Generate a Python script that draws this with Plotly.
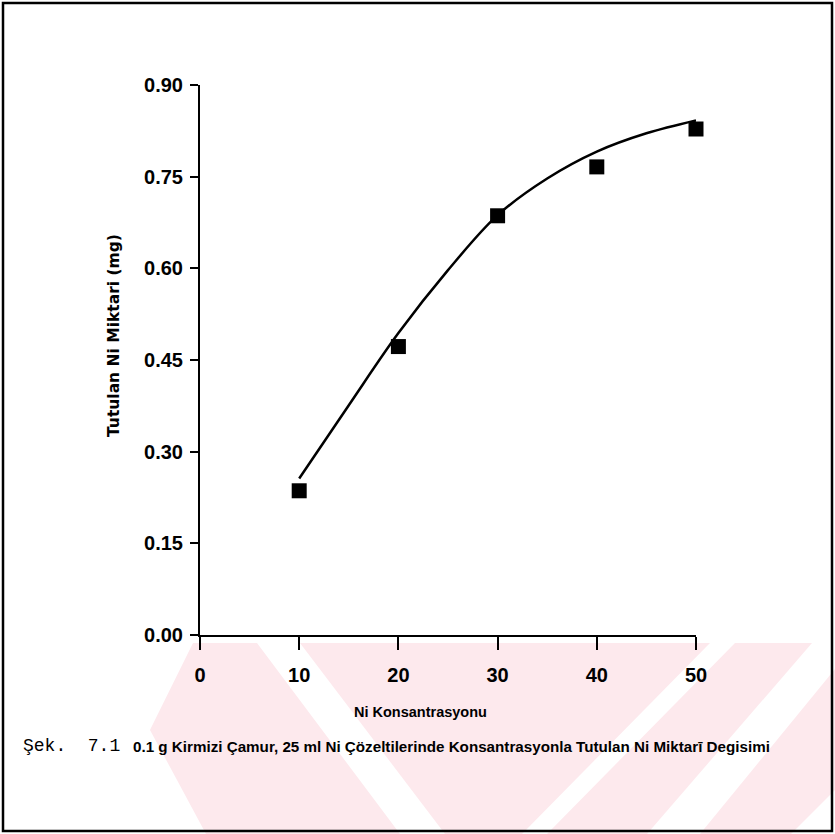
import plotly.graph_objects as go

# Page size
W, H = 835, 834

# Measured data: Ni retained vs. Ni concentration
conc = [10, 20, 30, 40, 50]
ni_retained = [0.236, 0.472, 0.686, 0.766, 0.828]

# Smoothed trend curve drawn through the measurements
curve_x = [10, 15, 20, 25, 30, 35, 40, 45, 50]
curve_y = [0.256, 0.376, 0.494, 0.597, 0.687, 0.747, 0.791, 0.821, 0.842]

x_ticks = [0, 10, 20, 30, 40, 50]
y_ticks = [0.00, 0.15, 0.30, 0.45, 0.60, 0.75, 0.90]
y_tick_text = ["0.00", "0.15", "0.30", "0.45", "0.60", "0.75", "0.90"]

x_title = "Ni Konsantrasyonu"
y_title = "Tutulan Ni Miktari (mg)"
fig_no = "Şek.  7.1"
caption = "0.1 g Kirmizi Çamur, 25 ml Ni Çözeltilerinde Konsantrasyonla Tutulan Ni Miktarī Degisimi"

# Plot area in pixels
ML, MR, MT, MB = 200, 139, 85, 199
PL, PR, PT, PB = ML, W - MR, MT, H - MB

SANS = "Liberation Sans, Arial, sans-serif"


def px(x):
    return (x - PL) / (PR - PL)


def py(y):
    return (PB - y) / (PB - PT)


def poly(points):
    d = "M " + " L ".join(f"{px(x):.5f},{py(y):.5f}" for x, y in points) + " Z"
    return d


fig = go.Figure()

fig.add_trace(go.Scatter(
    x=curve_x, y=curve_y, mode="lines",
    line=dict(color="black", width=2.5, shape="spline", smoothing=1.0),
    hoverinfo="skip", showlegend=False, cliponaxis=False,
))
fig.add_trace(go.Scatter(
    x=conc, y=ni_retained, mode="markers",
    marker=dict(symbol="square", size=15, color="black"),
    showlegend=False, cliponaxis=False,
))

shapes = []
# faint chevron watermark at the foot of the page
pink = "rgb(253,233,237)"
wm = [
    [(193, 643), (257, 643), (400, 834), (206, 834), (177, 780), (150, 730)],
    [(300, 643), (710, 643), (522, 834), (445, 834)],
    [(735, 643), (812, 643), (647, 834), (547, 834)],
    [(835, 669), (835, 790), (791, 834), (700, 834)],
]
for p in wm:
    shapes.append(dict(type="path", path=poly(p), xref="paper", yref="paper",
                       fillcolor=pink, line=dict(width=0), layer="below"))
# page frame
shapes.append(dict(type="rect", xref="paper", yref="paper",
                   x0=px(3), x1=px(832), y0=py(3), y1=py(831),
                   line=dict(color="black", width=2.5), layer="above"))

annotations = [
    dict(text=f"<b>{x_title}</b>", x=px(420), y=py(712), xref="paper", yref="paper",
         showarrow=False, xanchor="center", yanchor="middle",
         font=dict(family=SANS, size=14.5, color="black")),
    dict(text=f"<b>{y_title}</b>", x=px(114), y=py(336), xref="paper", yref="paper",
         showarrow=False, xanchor="center", yanchor="middle", textangle=-90,
         font=dict(family="DejaVu Sans", size=15.5, color="black")),
    dict(text=fig_no, x=px(21), y=py(746), xref="paper", yref="paper",
         showarrow=False, xanchor="left", yanchor="middle",
         font=dict(family="Liberation Mono, monospace", size=18, color="black")),
    dict(text=f"<b>{caption}</b>", x=px(131), y=py(746), xref="paper", yref="paper",
         showarrow=False, xanchor="left", yanchor="middle",
         font=dict(family=SANS, size=15.2, color="black")),
]

fig.update_layout(
    width=W, height=H,
    margin=dict(l=ML, r=MR, t=MT, b=MB, pad=0),
    paper_bgcolor="white", plot_bgcolor="rgba(0,0,0,0)",
    shapes=shapes, annotations=annotations,
    showlegend=False,
)
fig.update_xaxes(
    range=[0, 50], tickmode="array", tickvals=x_ticks,
    ticks="outside", ticklen=13, tickwidth=2, tickcolor="black",
    showline=True, linecolor="black", linewidth=2, showgrid=False, zeroline=False,
    tickfont=dict(family=SANS, size=20, color="black", weight="bold"),
    ticklabelstandoff=8,
)
fig.update_yaxes(
    range=[0, 0.9], tickmode="array", tickvals=y_ticks, ticktext=y_tick_text,
    ticks="outside", ticklen=8, tickwidth=2, tickcolor="black",
    showline=True, linecolor="black", linewidth=2, showgrid=False, zeroline=False,
    tickfont=dict(family=SANS, size=20, color="black", weight="bold"),
    ticklabelstandoff=3,
)

fig.write_html("out.html")
